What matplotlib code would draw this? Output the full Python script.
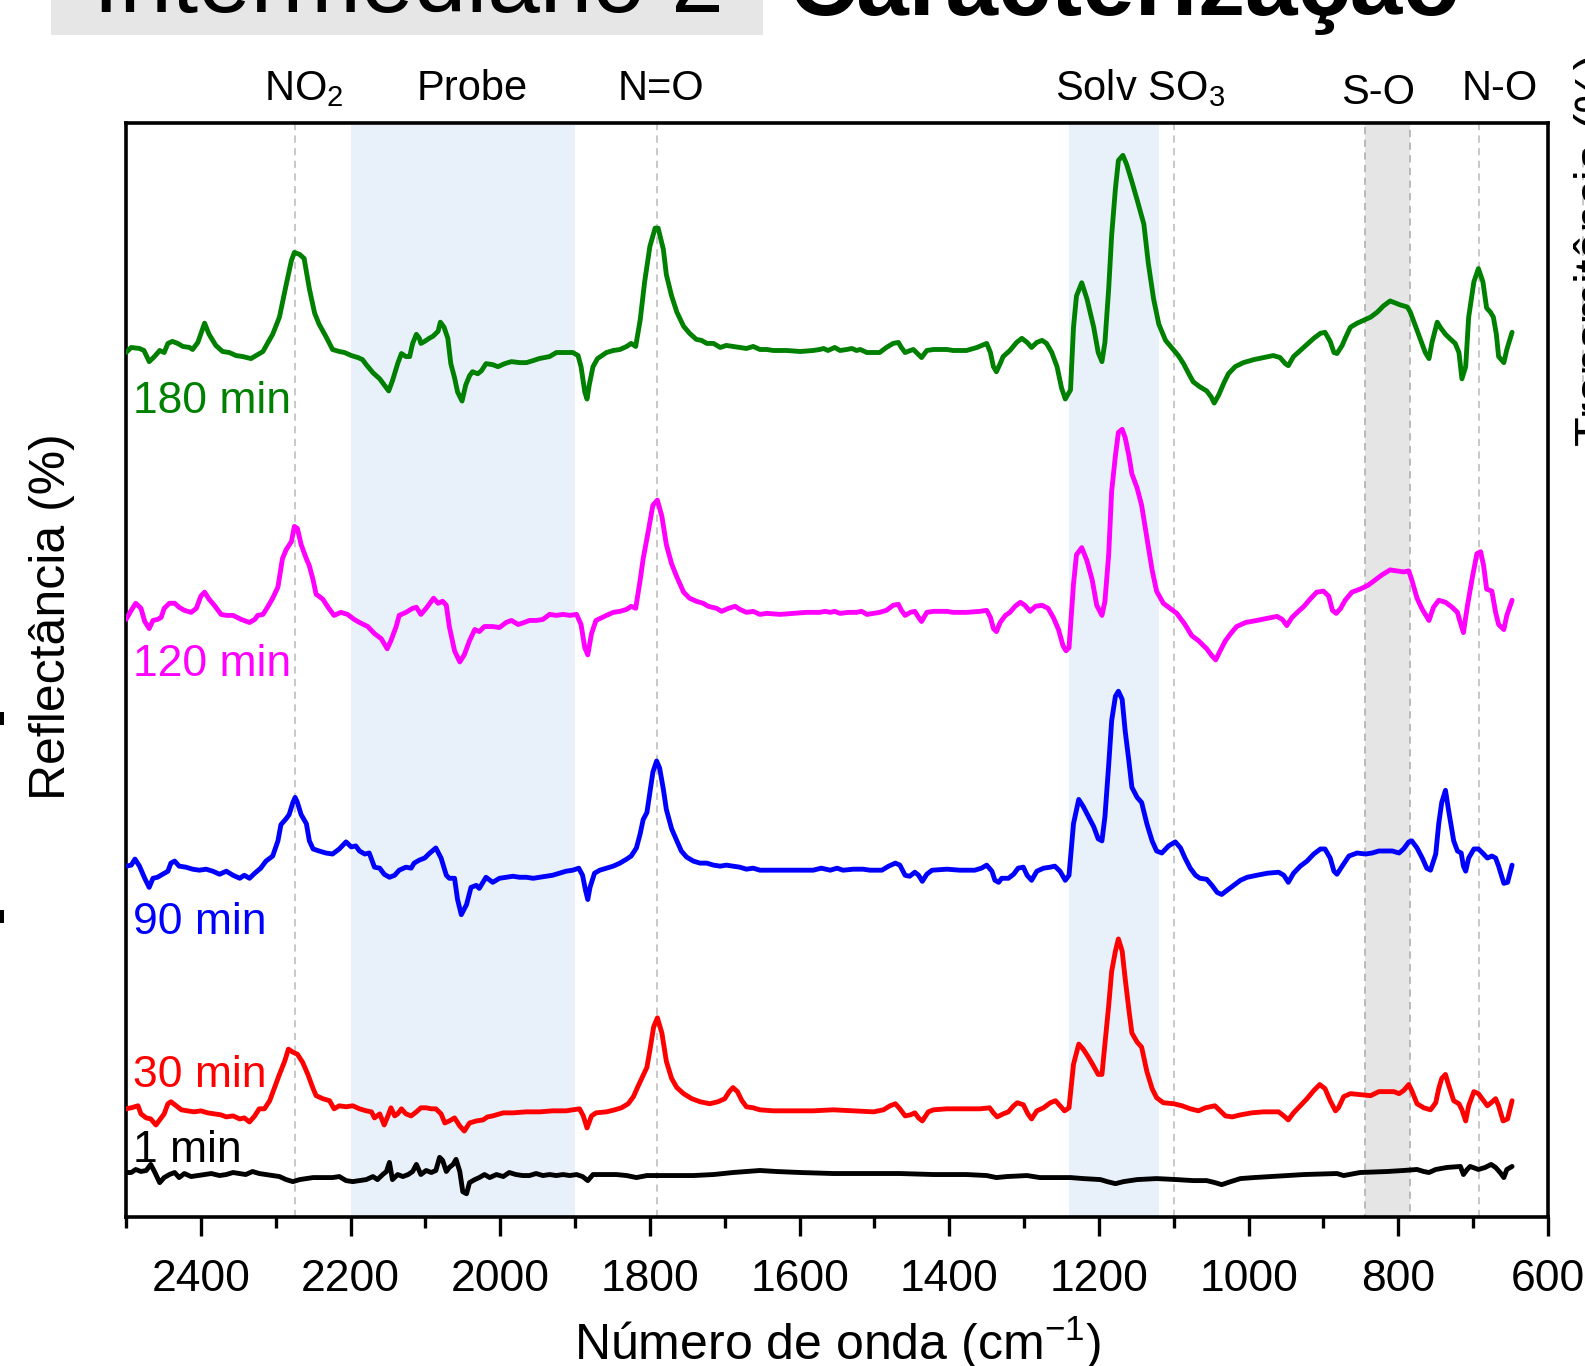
import matplotlib
matplotlib.use('Agg')
import matplotlib.pyplot as plt
import numpy as np
from matplotlib.patches import Rectangle
from matplotlib.lines import Line2D

plt.rcParams['font.family'] = ['Liberation Sans', 'DejaVu Sans']
plt.rcParams['mathtext.fontset'] = 'custom'
plt.rcParams['mathtext.rm'] = 'Liberation Sans'
plt.rcParams['mathtext.it'] = 'Liberation Sans:italic'
plt.rcParams['mathtext.bf'] = 'Liberation Sans:bold'

# ---------------- data: (wavenumber cm-1, reflectance a.u. incl. stacking offset) ----------------
spec_180 = [(2500, 855), (2493, 860), (2482, 859), (2476, 857), (2469, 846), (2462, 851), (2455, 857), (2449, 855),
    (2444, 864), (2438, 866), (2431, 864), (2424, 861), (2415, 860), (2411, 858), (2404, 865), (2395, 884), (2389, 873),
    (2380, 862), (2371, 856), (2362, 855), (2353, 852), (2344, 851), (2333, 849), (2324, 853), (2317, 856), (2311, 864),
    (2304, 873), (2295, 890), (2286, 922), (2279, 946), (2275, 954), (2268, 952), (2262, 948), (2255, 918), (2248, 894),
    (2242, 883), (2233, 871), (2224, 858), (2215, 856), (2208, 855), (2199, 852), (2190, 850), (2184, 848), (2179, 843),
    (2170, 835), (2161, 829), (2155, 823), (2149, 817), (2144, 827), (2137, 844), (2132, 854), (2126, 851), (2121, 851),
    (2117, 864), (2112, 873), (2108, 869), (2106, 864), (2101, 866), (2095, 869), (2090, 871), (2083, 876), (2080, 885),
    (2075, 880), (2070, 869), (2066, 844), (2061, 830), (2057, 816), (2051, 807), (2046, 823), (2041, 832), (2037, 836),
    (2030, 834), (2025, 837), (2019, 844), (2010, 843), (2003, 841), (1994, 844), (1985, 846), (1974, 845), (1965, 845),
    (1956, 847), (1948, 849), (1934, 851), (1925, 855), (1916, 855), (1903, 855), (1896, 852), (1892, 841), (1887, 816),
    (1884, 809), (1881, 823), (1876, 841), (1870, 849), (1858, 855),
    (1849, 857), (1840, 858), (1831, 861), (1825, 864), (1819, 861), (1813, 887), (1807, 925), (1800, 960), (1793, 978),
    (1789, 978), (1782, 957), (1778, 932), (1771, 911), (1764, 895), (1755, 881), (1747, 874), (1738, 868), (1731, 867),
    (1724, 864), (1715, 864), (1706, 860), (1698, 862), (1689, 861), (1680, 860), (1671, 859), (1662, 861), (1653, 858),
    (1644, 858), (1635, 857), (1617, 857), (1599, 856), (1582, 857), (1573, 858), (1568, 859), (1562, 857), (1553, 860),
    (1546, 857), (1537, 858), (1530, 859), (1524, 857), (1519, 858), (1510, 855), (1493, 855), (1484, 860), (1475, 864),
    (1468, 865), (1464, 860), (1459, 855), (1452, 857), (1448, 858), (1441, 853), (1437, 850), (1430, 857), (1421, 858),
    (1403, 858), (1395, 857), (1377, 857), (1363, 860), (1350, 864), (1345, 855), (1341, 841), (1337, 836), (1332, 844),
    (1328, 851), (1319, 857), (1310, 865), (1303, 869), (1296, 865), (1290, 860), (1283, 865), (1276, 867), (1270, 864),
    (1263, 855), (1256, 841), (1250, 820), (1245, 809),
    (1238, 818), (1234, 880), (1230, 911), (1223, 924), (1216, 908), (1207, 880), (1201, 855), (1196, 846), (1192, 865),
    (1187, 918), (1183, 971), (1178, 1017), (1174, 1045), (1168, 1050), (1163, 1041), (1156, 1024), (1149, 1006),
    (1140, 982), (1134, 943), (1127, 908), (1120, 883), (1111, 867), (1103, 860), (1094, 852), (1087, 844), (1080, 834),
    (1074, 826), (1065, 821), (1056, 817), (1050, 811), (1046, 805), (1040, 813), (1033, 825), (1027, 834), (1018, 841),
    (1007, 845), (993, 848), (980, 850), (967, 852), (958, 850), (951, 844), (947, 842), (940, 851), (931, 857),
    (922, 863), (913, 869), (904, 874), (898, 875), (891, 866), (886, 855), (882, 854), (875, 862), (871, 869), (864, 880),
    (855, 884), (846, 887), (837, 890), (828, 895), (820, 901), (811, 906), (804, 904), (797, 902), (788, 900), (784, 895),
    (777, 881), (771, 869), (764, 855), (759, 849), (755, 865), (748, 885), (744, 880), (737, 873), (730, 868), (724, 864),
    (719, 855), (715, 829), (710, 841), (706, 890), (699, 925), (693, 938), (687, 925), (682, 899), (677, 895), (673, 890),
    (669, 873), (666, 851), (659, 845), (655, 858), (648, 875)]

spec_120 = [(2500, 591), (2493, 600), (2487, 607), (2480, 602), (2475, 589), (2469, 582), (2464, 590), (2458, 591),
    (2453, 593), (2449, 602), (2442, 607), (2435, 607), (2429, 603), (2422, 600), (2413, 598), (2406, 602), (2400, 614),
    (2395, 618), (2389, 611), (2382, 605), (2373, 596), (2366, 595), (2357, 595), (2346, 591), (2335, 588), (2328, 591),
    (2324, 595), (2317, 596), (2311, 603), (2304, 612), (2297, 623), (2291, 651), (2286, 660), (2279, 668), (2275, 683),
    (2271, 681), (2266, 665), (2259, 651), (2255, 644), (2250, 630), (2246, 616), (2237, 611), (2230, 603), (2222, 595),
    (2213, 598), (2204, 596), (2195, 591), (2188, 588), (2177, 584), (2168, 577), (2159, 572), (2151, 562), (2146, 570),
    (2139, 584), (2135, 595), (2126, 598), (2117, 602), (2112, 603), (2106, 596), (2099, 602), (2094, 607), (2089, 612),
    (2083, 607), (2077, 609), (2072, 605), (2068, 584), (2061, 560), (2054, 549), (2048, 556), (2041, 570), (2034, 581),
    (2028, 579), (2021, 584), (2010, 584), (2001, 583), (1992, 588), (1985, 590), (1976, 586), (1968, 588), (1961, 590),
    (1952, 590), (1943, 591), (1934, 596), (1925, 595), (1916, 596), (1907, 595), (1898, 596), (1892, 586), (1887, 563),
    (1883, 556), (1878, 577), (1872, 590), (1858, 595),
    (1849, 598), (1840, 599), (1831, 601), (1825, 604), (1819, 602), (1813, 630), (1809, 651), (1802, 679), (1796, 704),
    (1790, 709), (1784, 693), (1778, 665), (1771, 646), (1764, 633), (1755, 618), (1747, 612), (1738, 609), (1729, 607),
    (1722, 604), (1711, 602), (1704, 599), (1695, 602), (1686, 604), (1680, 601), (1671, 598), (1662, 599), (1653, 596),
    (1644, 597), (1626, 596), (1608, 597), (1591, 598), (1573, 598), (1566, 599), (1559, 598), (1553, 599), (1546, 597),
    (1535, 598), (1524, 598), (1517, 599), (1510, 596), (1493, 598), (1484, 600), (1475, 605), (1468, 606), (1464, 600),
    (1459, 595), (1452, 598), (1446, 599), (1441, 593), (1437, 589), (1430, 598), (1421, 599), (1403, 599), (1395, 598),
    (1377, 598), (1359, 599), (1350, 600), (1345, 593), (1341, 582), (1337, 579), (1332, 588), (1325, 595), (1319, 598),
    (1312, 604), (1305, 608), (1299, 605), (1292, 599), (1285, 604), (1276, 605), (1268, 602), (1261, 593), (1254, 581),
    (1248, 565), (1244, 560),
    (1240, 563), (1234, 626), (1230, 655), (1223, 662), (1216, 649), (1209, 630), (1203, 605), (1196, 595), (1192, 609),
    (1187, 655), (1183, 718), (1178, 753), (1174, 776), (1169, 779), (1165, 771), (1160, 753), (1156, 735), (1149, 721),
    (1143, 704), (1136, 672), (1129, 640), (1123, 619), (1114, 607), (1105, 602), (1096, 597), (1085, 586), (1076, 575),
    (1067, 570), (1056, 562), (1049, 555), (1044, 551), (1038, 560), (1031, 570), (1024, 577), (1016, 584), (1004, 588),
    (989, 590), (976, 592), (962, 594), (955, 591), (949, 585), (942, 593), (935, 598), (926, 604), (918, 611), (909, 618),
    (900, 619), (893, 614), (888, 600), (883, 597), (877, 602), (871, 610), (862, 618), (851, 621), (840, 625), (831, 630),
    (822, 635), (811, 640), (802, 639), (793, 638), (786, 639), (782, 630), (775, 612), (768, 601), (759, 590), (753, 603),
    (746, 610), (737, 608), (728, 603), (721, 598), (718, 590), (713, 578), (708, 603), (701, 633), (695, 656), (690, 658),
    (686, 644), (682, 621), (675, 619), (670, 598), (666, 586), (659, 581), (655, 595), (648, 610)]

spec_90 = [(2500, 347), (2493, 348), (2488, 354), (2482, 347), (2475, 335), (2469, 326), (2464, 335), (2458, 336),
    (2451, 339), (2444, 342), (2440, 350), (2435, 352), (2429, 347), (2420, 346), (2411, 344), (2402, 343), (2393, 344),
    (2384, 342), (2375, 339), (2366, 342), (2357, 338), (2348, 335), (2342, 338), (2335, 335), (2328, 340), (2320, 345),
    (2313, 352), (2304, 357), (2297, 372), (2293, 388), (2286, 394), (2282, 398), (2277, 410), (2274, 415), (2271, 410),
    (2266, 398), (2259, 389), (2255, 372), (2250, 364), (2242, 362), (2233, 360), (2224, 359), (2215, 364), (2206, 371),
    (2199, 366), (2193, 367), (2188, 362), (2181, 359), (2175, 360), (2168, 346), (2161, 345), (2155, 339), (2148, 336),
    (2141, 338), (2135, 343), (2126, 346), (2119, 345), (2115, 350), (2108, 353), (2101, 355), (2094, 360), (2086, 365),
    (2079, 355), (2072, 338), (2068, 335), (2061, 335), (2057, 314), (2052, 299), (2045, 309), (2039, 326), (2032, 328),
    (2028, 325), (2019, 336), (2010, 331), (2001, 335), (1992, 336), (1983, 337), (1974, 336), (1965, 336), (1956, 335),
    (1947, 336), (1939, 337), (1930, 338), (1921, 340), (1912, 342), (1903, 343), (1895, 345), (1890, 338), (1886, 323),
    (1883, 314), (1880, 326), (1874, 340), (1867, 343), (1858, 345),
    (1849, 347), (1840, 350), (1831, 354), (1825, 357), (1818, 365), (1813, 379), (1809, 393), (1804, 400), (1800, 420),
    (1796, 440), (1791, 451), (1787, 444), (1782, 423), (1778, 403), (1771, 384), (1764, 372), (1758, 362), (1751, 356),
    (1742, 352), (1733, 350), (1724, 350), (1715, 348), (1706, 347), (1698, 348), (1689, 347), (1680, 346), (1671, 344),
    (1662, 345), (1653, 343), (1635, 343), (1617, 343), (1599, 343), (1582, 343), (1571, 345), (1559, 343), (1550, 345),
    (1542, 343), (1528, 344), (1515, 344), (1506, 343), (1490, 343), (1481, 347), (1472, 350), (1466, 348), (1459, 338),
    (1453, 337), (1446, 341), (1441, 338), (1436, 332), (1430, 339), (1423, 343), (1403, 344), (1386, 343), (1366, 343),
    (1357, 345), (1350, 348), (1343, 342), (1339, 333), (1334, 331), (1330, 335), (1321, 335), (1314, 339), (1308, 345),
    (1301, 346), (1296, 338), (1290, 333), (1283, 342), (1274, 345), (1265, 346), (1259, 347), (1252, 342), (1245, 333),
    (1240, 338), (1234, 389), (1227, 413), (1221, 406), (1214, 396), (1207, 386), (1201, 374), (1196, 372), (1192, 396),
    (1187, 447), (1183, 491), (1178, 515), (1174, 520), (1169, 512), (1165, 481), (1160, 451), (1156, 425), (1149, 415),
    (1143, 410), (1136, 389), (1129, 372), (1123, 362), (1116, 360), (1107, 367), (1098, 371), (1091, 365), (1085, 355),
    (1078, 345), (1071, 338), (1065, 335), (1056, 334), (1049, 328), (1042, 321), (1036, 319), (1029, 323), (1020, 328),
    (1011, 333), (1002, 336), (989, 338), (975, 340), (960, 341), (953, 338), (947, 331), (940, 340), (931, 347),
    (922, 352), (913, 359), (904, 364), (898, 364), (891, 355), (886, 342), (882, 339), (875, 347), (866, 357), (855, 360),
    (844, 359), (835, 360), (826, 362), (817, 362), (808, 362), (799, 360), (793, 364), (786, 371), (782, 372), (775, 365),
    (768, 355), (762, 345), (757, 343), (750, 359), (746, 389), (742, 410), (737, 422), (733, 403), (726, 372), (721, 362),
    (716, 360), (713, 347), (710, 342), (706, 355), (699, 364), (693, 364), (686, 359), (681, 355), (675, 357), (670, 355),
    (666, 347), (659, 330), (654, 331), (648, 348)]

spec_30 = [(2500, 107), (2493, 108), (2484, 110), (2480, 102), (2473, 98), (2467, 97), (2460, 91), (2453, 98),
    (2449, 102), (2444, 112), (2440, 114), (2433, 110), (2426, 106), (2418, 105), (2409, 104), (2400, 105), (2391, 103),
    (2382, 102), (2373, 101), (2366, 99), (2357, 100), (2348, 97), (2342, 98), (2335, 94), (2328, 100), (2322, 107),
    (2315, 107), (2308, 115), (2302, 127), (2295, 141), (2288, 154), (2283, 166), (2277, 163), (2271, 161), (2264, 153),
    (2257, 141), (2250, 127), (2246, 120), (2237, 117), (2228, 115), (2222, 107), (2215, 110), (2206, 109), (2197, 110),
    (2188, 107), (2179, 105), (2172, 104), (2168, 98), (2161, 102), (2155, 91), (2150, 100), (2146, 108), (2141, 100),
    (2137, 102), (2132, 107), (2126, 102), (2119, 100), (2112, 104), (2106, 108), (2099, 108), (2092, 107), (2086, 107),
    (2079, 102), (2074, 93), (2068, 95), (2061, 98), (2054, 90), (2048, 85), (2041, 93), (2032, 95), (2023, 96),
    (2017, 99), (2010, 100), (1996, 103), (1983, 103), (1965, 104), (1947, 104), (1930, 105), (1912, 105), (1894, 107),
    (1889, 100), (1884, 88), (1878, 100), (1872, 103), (1858, 104),
    (1847, 106), (1838, 108), (1829, 112), (1822, 119), (1816, 129), (1811, 137), (1804, 148), (1800, 165), (1795, 188),
    (1790, 197), (1784, 182), (1778, 154), (1771, 137), (1764, 128), (1755, 122), (1744, 117), (1733, 114), (1720, 112),
    (1709, 114), (1700, 117), (1694, 124), (1689, 128), (1683, 124), (1677, 115), (1671, 109), (1662, 108), (1653, 106),
    (1635, 105), (1608, 105), (1582, 105), (1555, 106), (1528, 105), (1501, 104), (1488, 106), (1479, 110), (1472, 112),
    (1466, 107), (1459, 100), (1452, 101), (1446, 103), (1441, 98), (1436, 95), (1428, 104), (1421, 106), (1403, 107),
    (1377, 107), (1359, 107), (1346, 108), (1341, 103), (1336, 99), (1328, 102), (1321, 104), (1314, 110), (1309, 113),
    (1301, 111), (1295, 102), (1290, 97), (1283, 105), (1274, 108), (1265, 113), (1258, 115), (1252, 110), (1246, 105),
    (1240, 108), (1234, 151), (1227, 171), (1221, 166), (1214, 158), (1207, 149), (1201, 141), (1196, 141), (1192, 171),
    (1187, 209), (1183, 243), (1178, 263), (1174, 275), (1169, 263), (1165, 236), (1160, 205), (1156, 182), (1149, 173),
    (1143, 168), (1136, 144), (1129, 127), (1123, 118), (1114, 113), (1100, 112), (1089, 110), (1078, 107), (1067, 105),
    (1058, 108), (1045, 110), (1038, 105), (1031, 100), (1022, 99), (1011, 101), (996, 103), (980, 104), (960, 104),
    (953, 100), (947, 96), (940, 103), (931, 110), (922, 117), (913, 125), (905, 131), (898, 127), (891, 115), (884, 105),
    (880, 108), (873, 119), (864, 122), (851, 121), (837, 120), (826, 124), (815, 124), (806, 124), (799, 122), (793, 125),
    (786, 131), (782, 125), (775, 112), (766, 108), (757, 106), (750, 113), (746, 127), (742, 137), (737, 141), (733, 131),
    (726, 115), (719, 112), (715, 106), (710, 95), (706, 110), (699, 124), (693, 122), (686, 115), (681, 110), (676, 113),
    (670, 117), (666, 110), (660, 95), (654, 97), (648, 115)]

spec_1 = [(2500, 44), (2493, 44), (2487, 47), (2480, 45), (2473, 46), (2467, 52), (2462, 45), (2455, 34), (2449, 39),
    (2442, 42), (2435, 44), (2429, 39), (2422, 43), (2413, 40), (2404, 41), (2395, 42), (2386, 43), (2375, 41), (2366, 42),
    (2357, 44), (2348, 43), (2340, 42), (2331, 45), (2322, 43), (2313, 42), (2304, 41), (2295, 40), (2286, 37), (2277, 35),
    (2268, 37), (2259, 38), (2250, 39), (2242, 39), (2233, 39), (2224, 39), (2215, 40), (2206, 36), (2197, 35), (2188, 36),
    (2179, 37), (2170, 40), (2164, 37), (2157, 42), (2152, 45), (2148, 54), (2144, 37), (2137, 42), (2130, 40), (2123, 42),
    (2117, 45), (2112, 52), (2106, 42), (2099, 46), (2092, 44), (2086, 46), (2081, 59), (2077, 56), (2072, 45), (2068, 49),
    (2063, 52), (2059, 57), (2054, 45), (2050, 25), (2045, 23), (2041, 34), (2034, 37), (2028, 39), (2021, 42), (2014, 39),
    (2005, 42), (1996, 40), (1988, 44), (1979, 42), (1970, 41), (1961, 41), (1952, 43), (1943, 41), (1934, 42), (1925, 41),
    (1916, 42), (1907, 41), (1898, 42), (1890, 40), (1883, 36), (1876, 42), (1858, 42),
    (1845, 42), (1831, 41), (1818, 39), (1804, 41), (1778, 41), (1742, 41), (1715, 42), (1689, 44), (1671, 45), (1653, 46),
    (1631, 45), (1599, 44), (1555, 43), (1510, 43), (1466, 43), (1421, 42), (1377, 42), (1350, 41), (1337, 39), (1323, 40),
    (1296, 41), (1279, 39), (1256, 39),
    (1238, 39), (1221, 38), (1198, 37), (1189, 35), (1178, 33), (1167, 35), (1149, 37), (1123, 38), (1096, 37), (1074, 36),
    (1056, 36), (1045, 34), (1036, 32), (1024, 35), (1011, 38), (993, 39), (971, 40), (926, 42), (882, 43), (873, 41),
    (851, 44), (815, 45), (793, 46), (775, 47), (766, 45), (759, 44), (750, 47), (735, 49), (717, 50), (713, 42), (708, 47),
    (704, 50), (693, 47), (684, 49), (676, 52), (670, 49), (664, 44), (659, 39), (655, 47), (648, 50)]

series_labels = ['180 min', '120 min', '90 min', '30 min', '1 min']
series_colors = ['#008000', '#ff00ff', '#0000ff', '#ff0000', '#000000']
series_data = [spec_180, spec_120, spec_90, spec_30, spec_1]
label_y = [795, 535, 280, 129, 54]

band_lines = [2274, 1790, 1100, 692]
probe_band = (2200, 1900)
solv_band = (1240, 1120)
so_band = (845, 784)
top_labels = ['NO$_2$', 'Probe', 'N=O', 'Solv SO$_3$', 'S-O', 'N-O']
top_label_x = [2263, 2038, 1785, 1145, 827, 665]
xticks_major = [2400, 2200, 2000, 1800, 1600, 1400, 1200, 1000, 800, 600]
xticks_minor = [2500, 2300, 2100, 1900, 1700, 1500, 1300, 1100, 900, 700]

# ---------------- figure ----------------
W, H = 1585, 1366
fig = plt.figure(figsize=(W / 100, H / 100), dpi=100)
ax = fig.add_axes([126 / W, 1 - 1217 / H, (1548 - 126) / W, (1217 - 123) / H])

ax.axvspan(*probe_band, color='#e8f1fa', lw=0, zorder=0)
ax.axvspan(*solv_band, color='#e8f1fa', lw=0, zorder=0)
ax.axvspan(*so_band, facecolor='#e5e5e5', edgecolor='#b5b5b5', ls=(0, (4, 3)), lw=1.3, zorder=0)
for xv in band_lines:
    ax.axvline(xv, color='#c4c4c4', ls=(0, (4, 3)), lw=1.3, zorder=1)

for data, col, lab, ly in zip(series_data, series_colors, series_labels, label_y):
    arr = np.array(data, dtype=float)
    ax.plot(arr[:, 0], arr[:, 1], color=col, lw=3.5, solid_joinstyle='round', solid_capstyle='round', zorder=3)
    ax.text(2491, ly, lab, color=col, fontsize=32, ha='left', va='baseline', zorder=4)

tr = ax.get_xaxis_transform()
for txt, xv in zip(top_labels, top_label_x):
    yy = 1.017 if txt == 'S-O' else 1.021
    ax.text(xv, yy, txt, transform=tr, fontsize=30, ha='center', va='baseline')

ax.set_xlim(2500, 600)
ax.set_ylim(0, 1082)
ax.set_xticks(xticks_major)
ax.set_xticks(xticks_minor, minor=True)
ax.tick_params(axis='x', which='major', direction='out', length=14, width=2.4, labelsize=32, pad=16)
ax.tick_params(axis='x', which='minor', direction='out', length=8, width=2.4)
ax.tick_params(axis='y', which='both', left=False, labelleft=False)
for sp in ax.spines.values():
    sp.set_linewidth(2.6)

fig.text(837 / W, 1 - 1360 / H, 'Número de onda (cm$^{-1}$)', fontsize=36, ha='center', va='baseline')
fig.text(52 / W, 1 - 617 / H, 'Reflectância (%)', fontsize=36, rotation=90, ha='center', va='center')
fig.text(1574 / W, 1 - 250 / H, 'Transmitância (%)', fontsize=35, rotation=90, ha='left', va='center')

# slide decorations around the chart
fig.add_artist(Rectangle((51 / W, 1 - 35 / H), (763 - 51) / W, 35 / H, transform=fig.transFigure,
                         facecolor='#e6e6e6', edgecolor='none', zorder=0))
fig.text(93 / W, 1 - 12 / H, 'Intermediário 2', fontsize=68, ha='left', va='baseline')
fig.text(788 / W, 1 - 15 / H, 'Caracterização', fontsize=68, fontweight='bold', ha='left', va='baseline')
for ytop in (712, 910):
    fig.add_artist(Rectangle((0, 1 - (ytop + 13) / H), 4 / W, 13 / H, transform=fig.transFigure,
                             facecolor='black', edgecolor='none'))
fig.add_artist(Line2D([1583 / W, 1583 / W], [1 - 395 / H, 1 - 150 / H], transform=fig.transFigure,
                      color='#c4c4c4', ls=(0, (4, 3)), lw=1.3))

fig.savefig('out.png', dpi=100)
